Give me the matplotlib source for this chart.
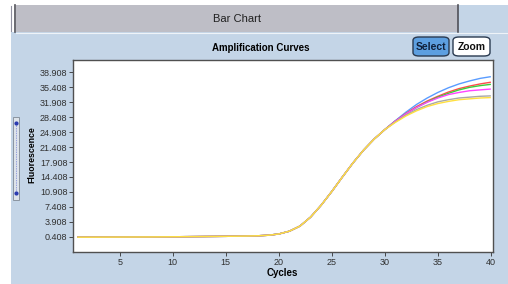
import matplotlib
matplotlib.use("Agg")
import matplotlib.pyplot as plt
from matplotlib.patches import Rectangle, FancyBboxPatch
from matplotlib.lines import Line2D

W, H = 508, 284
BG_BLUE = "#c4d5e7"
TAB_GRAY = "#bebec6"
plt.rcParams["font.family"] = ["Liberation Sans", "DejaVu Sans"]

cycles = list(range(1, 41))

# shared part of every curve, cycles 1..30
base = [0.30, 0.30, 0.31, 0.32, 0.33, 0.34, 0.35, 0.36, 0.38, 0.40,
        0.42, 0.44, 0.46, 0.48, 0.50, 0.53, 0.57, 0.63, 0.75, 1.05,
        1.70, 2.90, 5.00, 7.80, 11.0, 14.4, 17.7, 20.7, 23.3, 25.5]

# cycles 31..40 where the curves spread apart
tail_blue    = [27.6, 29.6, 31.4, 32.9, 34.2, 35.3, 36.2, 36.9, 37.5, 37.9]
tail_red     = [27.5, 29.3, 30.9, 32.2, 33.3, 34.3, 35.1, 35.7, 36.2, 36.6]
tail_green   = [27.5, 29.2, 30.7, 32.0, 33.1, 34.0, 34.8, 35.4, 35.8, 36.1]
tail_magenta = [27.5, 29.2, 30.7, 31.9, 32.9, 33.7, 34.2, 34.6, 34.8, 35.0]
tail_gray    = [27.3, 28.9, 30.2, 31.2, 32.0, 32.5, 32.9, 33.1, 33.3, 33.4]
tail_yellow  = [27.2, 28.7, 29.9, 30.9, 31.6, 32.1, 32.5, 32.7, 32.9, 33.0]

series = [
    ("#5a9cff", tail_blue),
    ("#ff4a4a", tail_red),
    ("#3ccf3c", tail_green),
    ("#ff44ff", tail_magenta),
    ("#a8a8a8", tail_gray),
    ("#ffe040", tail_yellow),
]

y_ticks = [0.408, 3.908, 7.408, 10.908, 14.408, 17.908, 21.408,
           24.908, 28.408, 31.908, 35.408, 38.908]
x_ticks = [5, 10, 15, 20, 25, 30, 35, 40]


def fx(px):
    return px / W


def fy(py):
    return 1 - py / H


fig = plt.figure(figsize=(W / 100, H / 100), dpi=100)
fig.patch.set_facecolor("white")

# window chrome
fig.patches.append(Rectangle((fx(11), 0), 1 - fx(11), fy(32), transform=fig.transFigure,
                             facecolor=BG_BLUE, edgecolor="none"))
fig.patches.append(Rectangle((fx(458), fy(32)), 1 - fx(458), fy(5) - fy(32), transform=fig.transFigure,
                             facecolor=BG_BLUE, edgecolor="none"))
fig.patches.append(Rectangle((fx(16), fy(32)), fx(442), fy(5) - fy(32), transform=fig.transFigure,
                             facecolor=TAB_GRAY, edgecolor="none"))
fig.lines.append(Line2D([fx(15), fx(15)], [fy(5), fy(32)], transform=fig.transFigure, color="#505058", lw=1.2))
fig.lines.append(Line2D([fx(458), fx(458)], [fy(5), fy(32)], transform=fig.transFigure, color="#505058", lw=1.2))
fig.lines.append(Line2D([fx(11), fx(11)], [fy(6), fy(31)], transform=fig.transFigure, color="#9090a0", lw=0.8))
fig.lines.append(Line2D([fx(16), 1], [fy(32.5), fy(32.5)], transform=fig.transFigure, color="#eef3f8", lw=0.8))
fig.text(fx(237), fy(19), "Bar Chart", ha="center", va="center", fontsize=8, color="#202020")

# slider on the left
fig.patches.append(Rectangle((fx(13), fy(200)), fx(6), fy(117) - fy(200), transform=fig.transFigure,
                             facecolor="#dde3ea", edgecolor="#8a94a0", lw=0.7))
fig.lines.append(Line2D([fx(16), fx(16)], [fy(124), fy(192)], transform=fig.transFigure,
                        color="#4a5ad0", lw=0.5, ls=(0, (1, 1.5))))
for py in (123, 193):
    fig.lines.append(Line2D([fx(16)], [fy(py)], transform=fig.transFigure, marker="o",
                            ms=2, color="#2a3ab0", ls="none"))

# buttons
fig.patches.append(FancyBboxPatch((fx(413), fy(56)), fx(36), fy(37) - fy(56),
                                  boxstyle="round,pad=0,rounding_size=0.012", transform=fig.transFigure,
                                  facecolor="#5d9fe0", edgecolor="#2a3a50", lw=1))
fig.patches.append(FancyBboxPatch((fx(453), fy(56)), fx(37), fy(37) - fy(56),
                                  boxstyle="round,pad=0,rounding_size=0.012", transform=fig.transFigure,
                                  facecolor="white", edgecolor="#2a3a50", lw=1))
fig.text(fx(431), fy(46.5), "Select", ha="center", va="center", fontsize=7.5, fontweight="bold", color="#10203a")
fig.text(fx(471.5), fy(46.5), "Zoom", ha="center", va="center", fontsize=7.5, fontweight="bold", color="#101010")

fig.text(fx(261), fy(48), "Amplification Curves", ha="center", va="center", fontsize=7,
         fontweight="bold", color="black")

# plot area, drawn above the chrome patches
ax = fig.add_axes([fx(73), fy(252), fx(420), fy(60) - fy(252)])
ax.set_zorder(5)
ax.set_facecolor("white")
for color, tail in series:
    ax.plot(cycles, base + tail, color=color, lw=1.0, solid_capstyle="butt")

ax.set_xlim(0.6, 40.2)
ax.set_ylim(-3.17, 41.8)
ax.set_xticks(x_ticks)
ax.set_yticks(y_ticks)
ax.set_yticklabels([f"{v:.3f}" for v in y_ticks])
ax.tick_params(direction="out", length=3, width=0.6, labelsize=6.5, colors="#303030", pad=1)
for s in ax.spines.values():
    s.set_color("#505050")
    s.set_linewidth(1)

fig.text(fx(282.5), fy(272.5), "Cycles", ha="center", va="center", fontsize=7, fontweight="bold")
fig.text(fx(32), fy(155), "Fluorescence", ha="center", va="center", rotation=90, fontsize=6.3,
         fontweight="bold")

fig.savefig("out.png", dpi=100)
